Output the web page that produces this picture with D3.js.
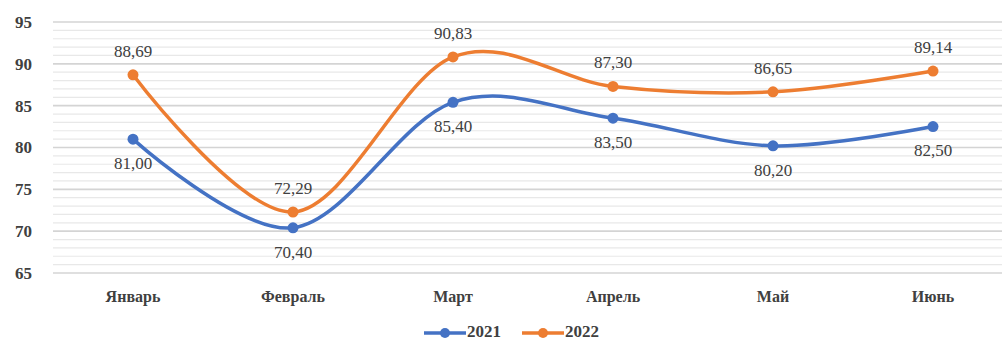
<!DOCTYPE html>
<html>
<head>
<meta charset="utf-8">
<script src="https://cdn.jsdelivr.net/npm/d3@7"></script>
<style>
  html, body { margin: 0; padding: 0; background: #fff; }
  svg { display: block; }
</style>
</head>
<body>
<svg id="chart" width="1002" height="343" font-family="Liberation Serif"></svg>
<script>
// Monthly values for two years
const months = ["Январь", "Февраль", "Март", "Апрель", "Май", "Июнь"];
const values2021 = [81.00, 70.40, 85.40, 83.50, 80.20, 82.50];
const values2022 = [88.69, 72.29, 90.83, 87.30, 86.65, 89.14];
const yTicks = [65, 70, 75, 80, 85, 90, 95];
const seriesNames = ["2021", "2022"];

const colors = { "2021": "#4472C4", "2022": "#ED7D31" };
const labelPlacement = { "2021": 26, "2022": -22 };
const FONT = "Liberation Serif";

const svg = d3.select("#chart");
const W = 1002, H = 343;
const plot = { left: 53, right: 1013, top: 22, bottom: 273 };

const x = d3.scaleBand().domain(months).range([plot.left, plot.right]);
const y = d3.scaleLinear().domain([65, 95]).range([plot.bottom, plot.top]);
const cx = m => x(m) + x.bandwidth() / 2;

// minor grid every 1 unit, major every 5
const minor = d3.range(65, 96, 1).filter(v => v % 5 !== 0);
svg.append("g").selectAll("line").data(minor).join("line")
  .attr("x1", plot.left).attr("x2", W)
  .attr("y1", d => y(d)).attr("y2", d => y(d))
  .attr("stroke", "#e8e8e8").attr("stroke-width", 1.2);

svg.append("g").selectAll("line").data(yTicks).join("line")
  .attr("x1", plot.left).attr("x2", W)
  .attr("y1", d => y(d)).attr("y2", d => y(d))
  .attr("stroke", "#d4d4d4").attr("stroke-width", 1.6);

// y axis labels
const yAxis = d3.axisLeft(y).tickValues(yTicks).tickSize(0).tickPadding(0);
const gy = svg.append("g").attr("transform", "translate(32,0)").call(yAxis)
  .attr("font-family", FONT).attr("font-size", 17);
gy.select(".domain").remove();
gy.selectAll("text")
  .attr("font-family", FONT)
  .attr("font-size", 17).attr("font-weight", "bold")
  .attr("fill", "#404040");

// x axis labels
const xAxis = d3.axisBottom(x).tickSize(0).tickPadding(0);
const gx = svg.append("g").attr("transform", "translate(0,291)").call(xAxis)
  .attr("font-family", FONT).attr("font-size", 16);
gx.select(".domain").remove();
gx.selectAll("text")
  .attr("font-family", FONT)
  .attr("font-size", 16).attr("font-weight", "bold")
  .attr("fill", "#404040");

const series = [
  { name: "2021", values: values2021 },
  { name: "2022", values: values2022 }
];

const line = d3.line()
  .x((d, i) => cx(months[i]))
  .y(d => y(d))
  .curve(d3.curveCardinal.tension(0));

series.forEach(s => {
  const g = svg.append("g");
  g.append("path").datum(s.values)
    .attr("d", line)
    .attr("fill", "none")
    .attr("stroke", colors[s.name])
    .attr("stroke-width", 3.5)
    .attr("stroke-linecap", "round");
  g.selectAll("circle").data(s.values).join("circle")
    .attr("cx", (d, i) => cx(months[i]))
    .attr("cy", d => y(d))
    .attr("r", 5.5)
    .attr("fill", colors[s.name]);
  g.selectAll("text").data(s.values).join("text")
    .attr("x", (d, i) => cx(months[i]))
    .attr("y", d => y(d) + labelPlacement[s.name])
    .attr("text-anchor", "middle")
    .attr("dominant-baseline", "middle")
    .attr("font-family", FONT)
    .attr("font-size", 17)
    .attr("fill", "#404040")
    .text(d => d.toFixed(2).replace(".", ","));
});

// legend
const legend = svg.append("g").attr("transform", "translate(0,333)");
const legendItems = [
  { name: seriesNames[0], x0: 424 },
  { name: seriesNames[1], x0: 522 }
];
legendItems.forEach(it => {
  legend.append("line")
    .attr("x1", it.x0).attr("x2", it.x0 + 42)
    .attr("y1", 0).attr("y2", 0)
    .attr("stroke", colors[it.name]).attr("stroke-width", 3.5);
  legend.append("circle")
    .attr("cx", it.x0 + 21).attr("cy", 0).attr("r", 5)
    .attr("fill", colors[it.name]);
  legend.append("text")
    .attr("x", it.x0 + 43).attr("y", 0)
    .attr("dominant-baseline", "middle")
    .attr("font-family", FONT)
    .attr("font-size", 17).attr("font-weight", "bold")
    .attr("fill", "#404040")
    .text(it.name);
});
</script>
</body>
</html>
